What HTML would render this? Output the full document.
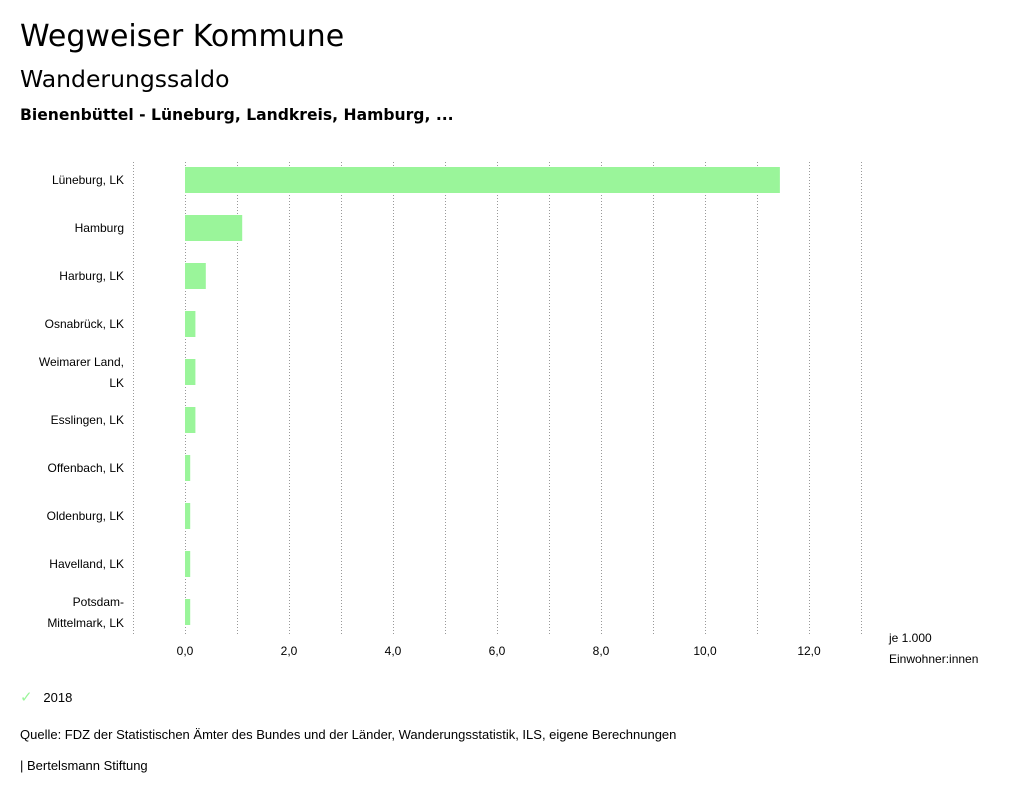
<!DOCTYPE html>
<html><head><meta charset="utf-8"><style>
body{margin:0;width:1024px;height:799px;background:#fff;font-family:"Liberation Sans","DejaVu Sans",sans-serif;color:#000;overflow:hidden;position:relative}
.t{position:absolute;white-space:nowrap}
.d{font-family:"DejaVu Sans","Liberation Sans",sans-serif}
</style></head><body>
<div class="t d" style="left:20px;top:19px;font-size:30px">Wegweiser Kommune</div>
<div class="t d" style="left:20px;top:65px;font-size:23.5px">Wanderungssaldo</div>
<div class="t d" style="left:20px;top:106px;font-size:15.6px;font-weight:bold">Bienenbüttel - Lüneburg, Landkreis, Hamburg, ...</div>
<svg id="chart" width="1024" height="690" style="position:absolute;left:0;top:0" font-family="Liberation Sans, DejaVu Sans, sans-serif"></svg>
<div class="t" style="left:20px;top:688px;font-size:13px"><span style="color:#9af59a;font-weight:bold;font-size:15px">✓</span>&nbsp;&nbsp;&nbsp;2018</div>
<div class="t" style="left:20px;top:727px;font-size:13px">Quelle: FDZ der Statistischen Ämter des Bundes und der Länder, Wanderungsstatistik, ILS, eigene Berechnungen</div>
<div class="t" style="left:20px;top:758px;font-size:13px">| Bertelsmann Stiftung</div>
<script>
const categories=[["Lüneburg, LK"],["Hamburg"],["Harburg, LK"],["Osnabrück, LK"],["Weimarer Land,","LK"],["Esslingen, LK"],["Offenbach, LK"],["Oldenburg, LK"],["Havelland, LK"],["Potsdam-","Mittelmark, LK"]];
const values2018=[11.44,1.1,0.4,0.2,0.2,0.2,0.1,0.1,0.1,0.1];
const tickValues=[0,2,4,6,8,10,12];
const tickLabels=["0,0","2,0","4,0","6,0","8,0","10,0","12,0"];
const gridValues=[-1,0,1,2,3,4,5,6,7,8,9,10,11,12,13];
const svg=document.getElementById('chart');
const NS='http://www.w3.org/2000/svg';
const x=v=>185+v*52;
const y=i=>180+i*48;
function mk(t,a){const e=document.createElementNS(NS,t);for(const k in a)e.setAttribute(k,a[k]);svg.appendChild(e);return e;}
gridValues.forEach(g=>{const l=mk('line',{x1:x(g)+0.5,x2:x(g)+0.5,y1:162,y2:636,stroke:'#999','stroke-width':1,'stroke-dasharray':'1,2'});

});
tickValues.forEach((v,i)=>{const t=mk('text',{x:x(v),y:655,'font-size':12,'text-anchor':'middle'});t.textContent=tickLabels[i];

});
categories.forEach((c,i)=>{
const b=mk('rect',{x:x(0),y:y(i)-13,width:x(values2018[i])-x(0),height:26,fill:'#9af59a'});


c.forEach((line,j)=>{const t=mk('text',{x:124,y:y(i)+4+(c.length>1?(j?11:-10):0),'font-size':12,'text-anchor':'end'});t.textContent=line;

});
});
[["je 1.000",642],["Einwohner:innen",663]].forEach(([s,yy])=>{const t=mk('text',{x:889,y:yy,'font-size':12});t.textContent=s;

});
</script>
</body></html>
